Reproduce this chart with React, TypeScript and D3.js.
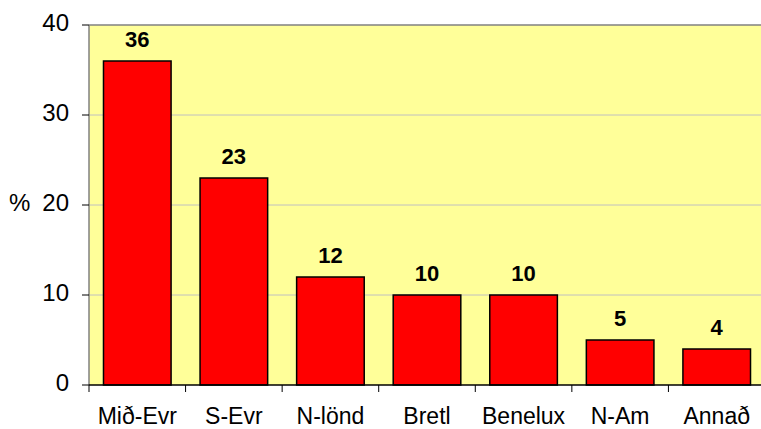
import React from 'react';
import { useRef, useEffect } from 'react';
import { select, scaleBand, scaleLinear } from 'd3';

const categories = ['Mið-Evr', 'S-Evr', 'N-lönd', 'Bretl', 'Benelux', 'N-Am', 'Annað'];
const shares = [36, 23, 12, 10, 10, 5, 4];
const yTicks = [0, 10, 20, 30, 40];

const W = 761;
const H = 429;
const margin = { top: 25, right: -4, bottom: 44, left: 89 };
const FONT = 'Liberation Sans, Arial, sans-serif';

function App() {
  const svgRef = useRef<SVGSVGElement>(null);

  useEffect(() => {
    const svg = select(svgRef.current);
    svg.selectAll('*').remove();

    const x = scaleBand<string>()
      .domain(categories)
      .range([margin.left, W - margin.right])
      .paddingInner(0.3)
      .paddingOuter(0.15);
    const y = scaleLinear().domain([0, 40]).range([H - margin.bottom, margin.top]);
    const step = x.step();
    const x0 = margin.left;
    const x1 = W - margin.right;

    // plot background
    svg.append('rect')
      .attr('x', x0).attr('y', y(40))
      .attr('width', x1 - x0).attr('height', y(0) - y(40))
      .attr('fill', '#FFFF99');

    // gridlines
    svg.selectAll('.grid')
      .data(yTicks.filter(t => t > 0 && t < 40))
      .join('line')
      .attr('x1', x0).attr('x2', x1)
      .attr('y1', d => y(d)).attr('y2', d => y(d))
      .attr('stroke', '#C0C0C0').attr('stroke-width', 1);

    // top border
    svg.append('line')
      .attr('x1', x0).attr('x2', x1)
      .attr('y1', y(40)).attr('y2', y(40))
      .attr('stroke', '#808080').attr('stroke-width', 1.5);

    // bars
    svg.selectAll('.bar')
      .data(shares)
      .join('rect')
      .attr('x', (d, i) => x(categories[i])!)
      .attr('y', d => y(d))
      .attr('width', x.bandwidth())
      .attr('height', d => y(0) - y(d))
      .attr('fill', '#FF0000')
      .attr('stroke', '#000').attr('stroke-width', 1.5);

    // value labels
    svg.selectAll('.val')
      .data(shares)
      .join('text')
      .attr('x', (d, i) => x(categories[i])! + x.bandwidth() / 2)
      .attr('y', d => y(d) - 14.5)
      .attr('text-anchor', 'middle')
      .attr('font-family', FONT)
      .attr('font-size', 22).attr('font-weight', 'bold')
      .text(d => d);

    // y axis
    svg.append('line')
      .attr('x1', x0).attr('x2', x0)
      .attr('y1', y(40)).attr('y2', y(0))
      .attr('stroke', '#808080').attr('stroke-width', 1.5);
    svg.selectAll('.ytick')
      .data(yTicks)
      .join('line')
      .attr('x1', x0 - 7).attr('x2', x0)
      .attr('y1', d => y(d)).attr('y2', d => y(d))
      .attr('stroke', '#000').attr('stroke-width', 1);
    svg.selectAll('.ylab')
      .data(yTicks)
      .join('text')
      .attr('x', 69)
      .attr('y', d => y(d) + 6)
      .attr('text-anchor', 'end')
      .attr('font-family', FONT)
      .attr('font-size', 24)
      .text(d => d);
    svg.append('text')
      .attr('x', 9).attr('y', y(20) + 6)
      .attr('font-family', FONT)
      .attr('font-size', 24)
      .text('%');

    // x axis
    svg.append('line')
      .attr('x1', x0).attr('x2', x1)
      .attr('y1', y(0)).attr('y2', y(0))
      .attr('stroke', '#000').attr('stroke-width', 1.5);
    svg.selectAll('.xtick')
      .data(categories.map((c, i) => x0 + i * step))
      .join('line')
      .attr('x1', d => d).attr('x2', d => d)
      .attr('y1', y(0)).attr('y2', y(0) + 7)
      .attr('stroke', '#000').attr('stroke-width', 1);
    svg.selectAll('.xlab')
      .data(categories)
      .join('text')
      .attr('x', d => x(d)! + x.bandwidth() / 2)
      .attr('y', y(0) + 38.5)
      .attr('text-anchor', 'middle')
      .attr('font-family', FONT)
      .attr('font-size', 23)
      .text(d => d);
  }, []);

  return (
    <svg ref={svgRef} width={W} height={H}
      style={{ position: 'absolute', left: 0, top: 0, background: '#fff' }} />
  );
}

export default App;
